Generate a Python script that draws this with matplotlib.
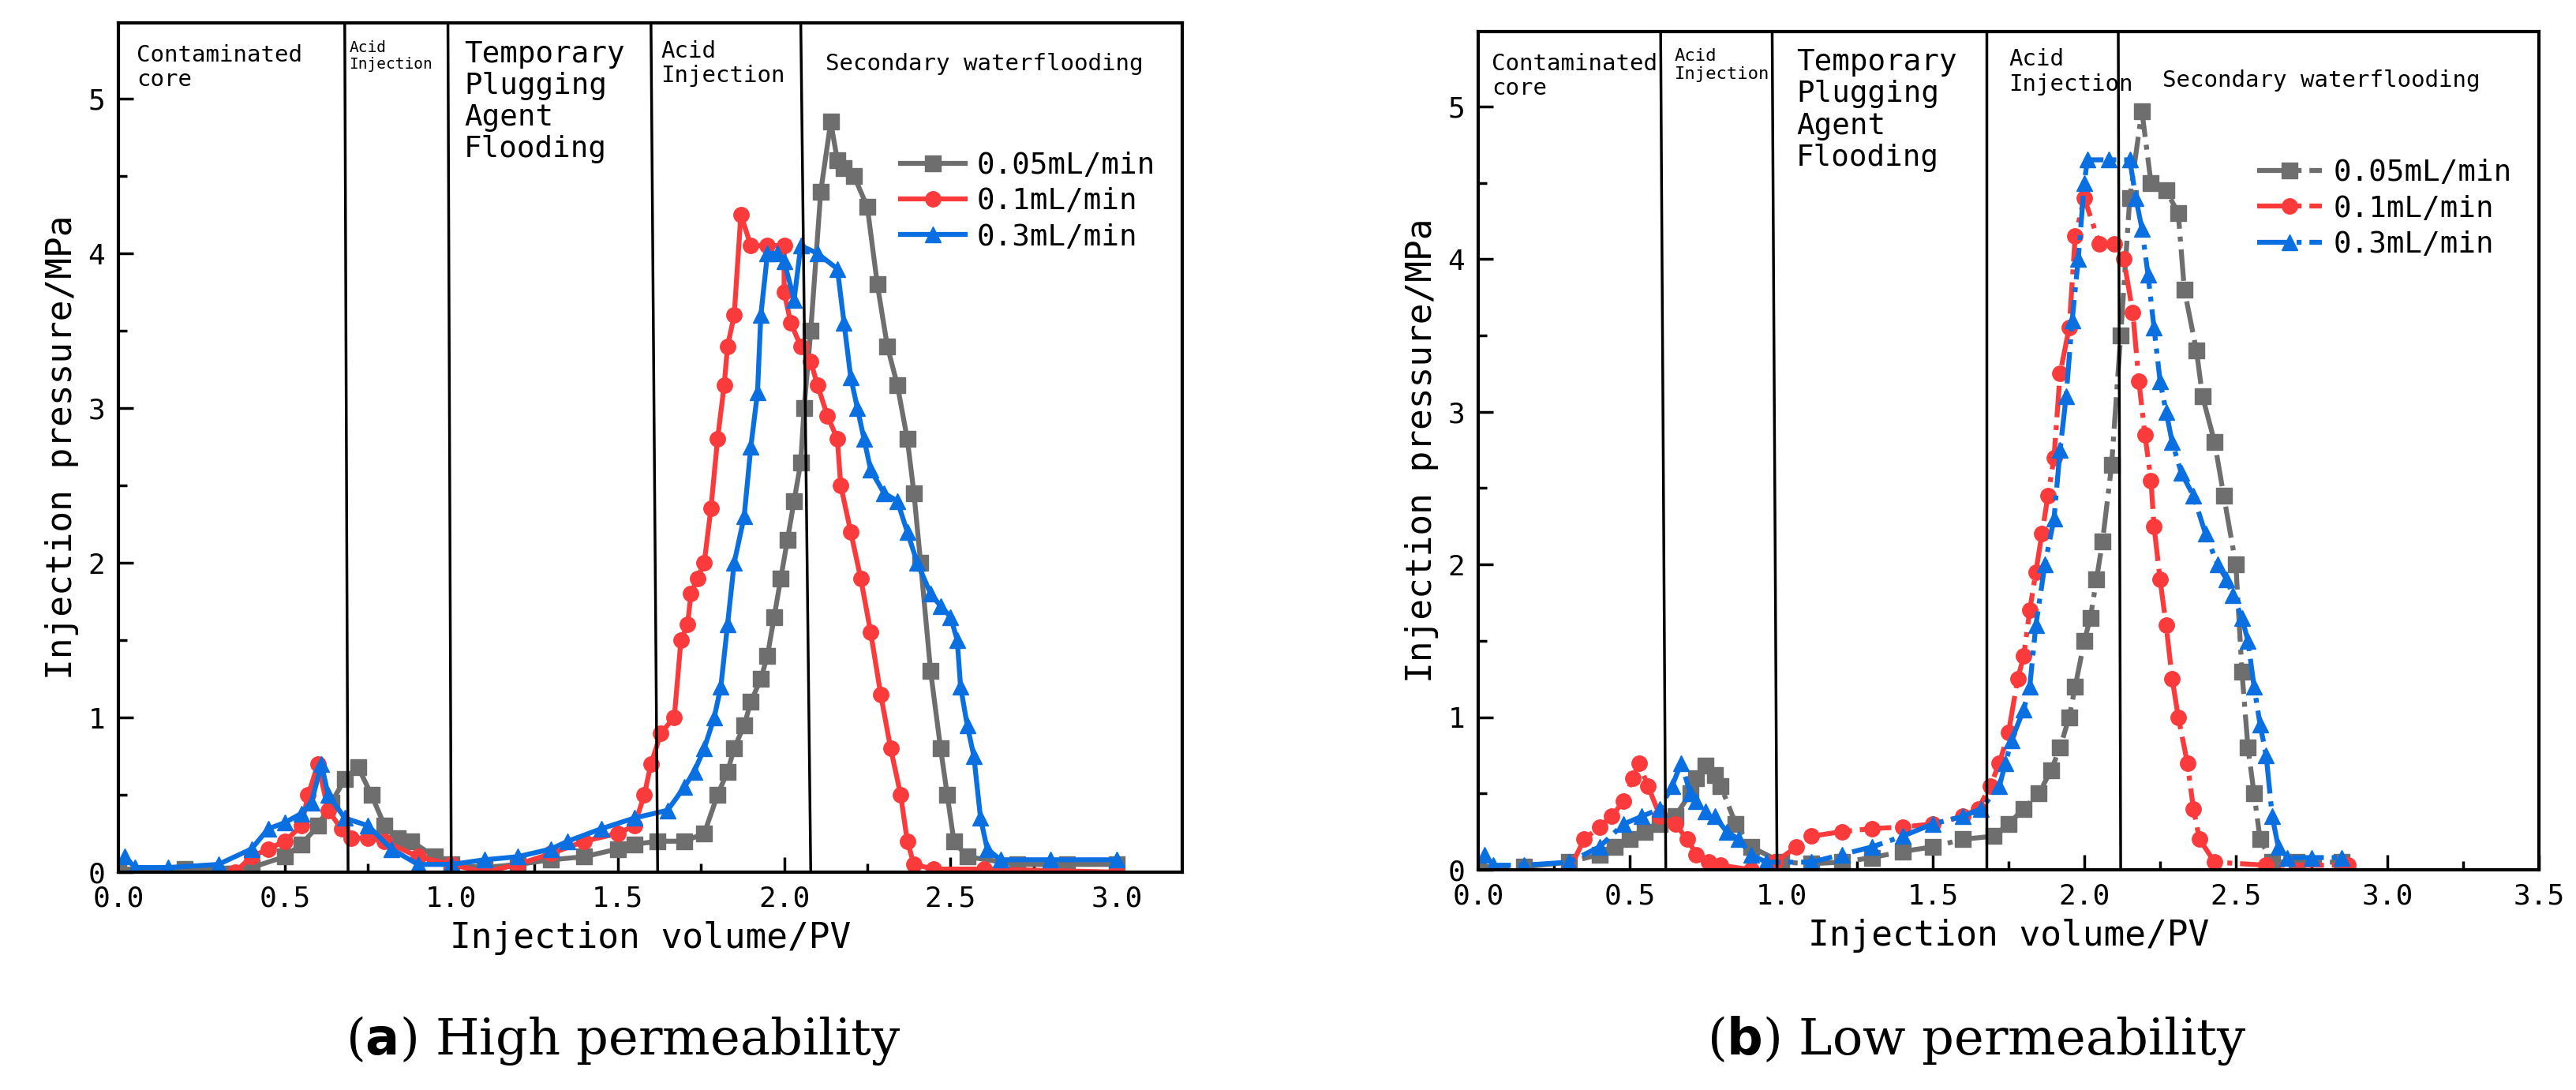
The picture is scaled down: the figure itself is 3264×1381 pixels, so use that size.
import numpy as np
import matplotlib.pyplot as plt
from matplotlib.ticker import MultipleLocator

## data
labels = ['0.05mL/min', '0.1mL/min', '0.3mL/min']
colors = ['#6e6e6e', '#fb3b3b', '#0a6fe0']
markers = ['s', 'o', '^']

# (a) high permeability
a_gray_x = [0.0, 0.2, 0.4, 0.5, 0.55, 0.6, 0.64, 0.68, 0.72, 0.76, 0.8, 0.84, 0.88, 0.95, 1.0, 1.1, 1.2, 1.3, 1.4, 1.5, 1.55, 1.62, 1.7, 1.76, 1.8, 1.83, 1.85, 1.88, 1.9, 1.93, 1.95, 1.97, 1.99, 2.01, 2.03, 2.05, 2.06, 2.08, 2.11, 2.14, 2.16, 2.18, 2.21, 2.25, 2.28, 2.31, 2.34, 2.37, 2.39, 2.41, 2.44, 2.47, 2.49, 2.51, 2.55, 2.7, 2.85, 3.0]
a_gray_y = [0.02, 0.02, 0.03, 0.1, 0.18, 0.3, 0.45, 0.6, 0.68, 0.5, 0.3, 0.22, 0.2, 0.1, 0.05, 0.03, 0.05, 0.08, 0.1, 0.15, 0.18, 0.2, 0.2, 0.25, 0.5, 0.65, 0.8, 0.95, 1.1, 1.25, 1.4, 1.65, 1.9, 2.15, 2.4, 2.65, 3.0, 3.5, 4.4, 4.85, 4.6, 4.55, 4.5, 4.3, 3.8, 3.4, 3.15, 2.8, 2.45, 2.0, 1.3, 0.8, 0.5, 0.2, 0.1, 0.05, 0.05, 0.05]
a_red_x = [0.35, 0.4, 0.45, 0.5, 0.55, 0.57, 0.6, 0.63, 0.67, 0.7, 0.75, 0.8, 0.9, 1.0, 1.1, 1.2, 1.3, 1.4, 1.5, 1.55, 1.58, 1.6, 1.63, 1.67, 1.69, 1.71, 1.72, 1.74, 1.76, 1.78, 1.8, 1.82, 1.83, 1.85, 1.87, 1.9, 1.95, 2.0, 2.0, 2.02, 2.05, 2.08, 2.1, 2.13, 2.16, 2.17, 2.2, 2.23, 2.26, 2.29, 2.32, 2.35, 2.37, 2.39, 2.45, 2.6, 2.8, 3.0]
a_red_y = [0.0, 0.1, 0.15, 0.2, 0.3, 0.5, 0.7, 0.4, 0.28, 0.22, 0.22, 0.2, 0.1, 0.05, 0.0, 0.05, 0.12, 0.2, 0.25, 0.3, 0.5, 0.7, 0.9, 1.0, 1.5, 1.6, 1.8, 1.9, 2.0, 2.35, 2.8, 3.15, 3.4, 3.6, 4.25, 4.05, 4.05, 4.05, 3.75, 3.55, 3.4, 3.3, 3.15, 2.95, 2.8, 2.5, 2.2, 1.9, 1.55, 1.15, 0.8, 0.5, 0.2, 0.05, 0.02, 0.02, 0.01, 0.0]
a_blue_x = [0.02, 0.05, 0.15, 0.3, 0.4, 0.45, 0.5, 0.55, 0.58, 0.61, 0.63, 0.68, 0.75, 0.82, 0.9, 1.0, 1.1, 1.2, 1.3, 1.35, 1.45, 1.55, 1.65, 1.7, 1.73, 1.76, 1.79, 1.81, 1.83, 1.85, 1.88, 1.9, 1.92, 1.93, 1.95, 1.98, 2.0, 2.03, 2.05, 2.1, 2.16, 2.18, 2.2, 2.22, 2.24, 2.26, 2.3, 2.34, 2.37, 2.4, 2.44, 2.47, 2.5, 2.52, 2.53, 2.55, 2.57, 2.59, 2.61, 2.65, 2.8, 3.0]
a_blue_y = [0.1, 0.03, 0.03, 0.05, 0.15, 0.28, 0.32, 0.38, 0.45, 0.7, 0.5, 0.35, 0.3, 0.15, 0.05, 0.05, 0.08, 0.1, 0.15, 0.2, 0.28, 0.35, 0.4, 0.55, 0.65, 0.8, 1.0, 1.2, 1.6, 2.0, 2.3, 2.75, 3.1, 3.6, 4.0, 4.0, 3.95, 3.7, 4.05, 4.0, 3.9, 3.55, 3.2, 3.0, 2.8, 2.6, 2.45, 2.4, 2.2, 2.0, 1.8, 1.72, 1.65, 1.5, 1.2, 0.95, 0.75, 0.35, 0.15, 0.08, 0.08, 0.08]

# (b) low permeability
b_gray_x = [0.0, 0.15, 0.3, 0.4, 0.45, 0.5, 0.55, 0.6, 0.65, 0.7, 0.72, 0.75, 0.78, 0.8, 0.85, 0.9, 1.0, 1.1, 1.2, 1.3, 1.4, 1.5, 1.6, 1.7, 1.75, 1.8, 1.85, 1.89, 1.92, 1.95, 1.97, 2.0, 2.02, 2.04, 2.06, 2.09, 2.12, 2.15, 2.19, 2.22, 2.27, 2.31, 2.33, 2.37, 2.39, 2.43, 2.46, 2.5, 2.52, 2.54, 2.56, 2.58, 2.62, 2.7, 2.85]
b_gray_y = [0.02, 0.02, 0.05, 0.1, 0.15, 0.2, 0.25, 0.3, 0.35, 0.5, 0.6, 0.68, 0.62, 0.55, 0.3, 0.15, 0.05, 0.04, 0.05, 0.08, 0.12, 0.15, 0.2, 0.22, 0.3, 0.4, 0.5, 0.65, 0.8, 1.0, 1.2, 1.5, 1.65, 1.9, 2.15, 2.65, 3.5, 4.4, 4.97, 4.5, 4.45, 4.3, 3.8, 3.4, 3.1, 2.8, 2.45, 2.0, 1.3, 0.8, 0.5, 0.2, 0.05, 0.05, 0.05]
b_red_x = [0.3, 0.35, 0.4, 0.44, 0.48, 0.51, 0.53, 0.56, 0.6, 0.65, 0.69, 0.72, 0.76, 0.8, 0.9, 0.98, 1.05, 1.1, 1.2, 1.3, 1.4, 1.5, 1.6, 1.65, 1.69, 1.72, 1.75, 1.78, 1.8, 1.82, 1.84, 1.86, 1.88, 1.9, 1.92, 1.95, 1.97, 2.0, 2.05, 2.1, 2.13, 2.16, 2.18, 2.2, 2.22, 2.23, 2.25, 2.27, 2.29, 2.31, 2.34, 2.36, 2.38, 2.43, 2.6, 2.87]
b_red_y = [0.0, 0.2, 0.28, 0.35, 0.45, 0.6, 0.7, 0.55, 0.35, 0.3, 0.2, 0.1, 0.05, 0.03, 0.0, 0.05, 0.15, 0.22, 0.25, 0.27, 0.28, 0.3, 0.35, 0.4, 0.55, 0.7, 0.9, 1.25, 1.4, 1.7, 1.95, 2.2, 2.45, 2.7, 3.25, 3.55, 4.15, 4.4, 4.1, 4.1, 4.0, 3.65, 3.2, 2.85, 2.55, 2.25, 1.9, 1.6, 1.25, 1.0, 0.7, 0.4, 0.2, 0.05, 0.03, 0.03]
b_blue_x = [0.02, 0.05, 0.15, 0.3, 0.4, 0.48, 0.54, 0.6, 0.64, 0.67, 0.7, 0.72, 0.75, 0.78, 0.82, 0.86, 0.9, 0.95, 1.1, 1.2, 1.3, 1.4, 1.5, 1.6, 1.66, 1.72, 1.74, 1.76, 1.8, 1.82, 1.84, 1.87, 1.9, 1.92, 1.94, 1.96, 1.98, 2.0, 2.01, 2.08, 2.15, 2.17, 2.19, 2.21, 2.23, 2.25, 2.27, 2.29, 2.32, 2.36, 2.4, 2.44, 2.47, 2.49, 2.52, 2.54, 2.56, 2.58, 2.6, 2.62, 2.64, 2.67, 2.75, 2.85]
b_blue_y = [0.1, 0.03, 0.03, 0.05, 0.15, 0.3, 0.35, 0.4, 0.55, 0.7, 0.5, 0.45, 0.38, 0.35, 0.25, 0.2, 0.1, 0.05, 0.05, 0.1, 0.15, 0.22, 0.3, 0.35, 0.4, 0.55, 0.7, 0.85, 1.05, 1.2, 1.6, 2.0, 2.3, 2.75, 3.1, 3.6, 4.0, 4.5, 4.65, 4.65, 4.65, 4.4, 4.2, 3.9, 3.55, 3.2, 3.0, 2.8, 2.6, 2.45, 2.2, 2.0, 1.9, 1.8, 1.65, 1.5, 1.2, 0.95, 0.75, 0.35, 0.15, 0.08, 0.08, 0.08]

# stage dividers: (x at bottom, x at top)
a_div = [(0.69, 0.68), (1.0, 0.99), (1.62, 1.6), (2.08, 2.05)]
b_div = [(0.619, 0.602), (0.986, 0.97), (1.676, 1.676), (2.12, 2.112)]

mono = 'DejaVu Sans Mono'
plt.rcParams['font.family'] = mono

W, H = 3264, 1381
fig = plt.figure(figsize=(32.64, 13.81), dpi=100)
axa = fig.add_axes([150/W, 1-1105/H, 1348/W, 1076/H])
axb = fig.add_axes([1873/W, 1-1102/H, 1344/W, 1062/H])

def draw(ax, series, divs, xmax, ls, texts):
    for (x, y), lab, c, m in zip(series, labels, colors, markers):
        ax.plot(x, y, ls, color=c, marker=m, ms=14, lw=4.5, label=lab)
    for xb, xt in divs:
        ax.plot([xb, xt], [0, 5.49], color='black', lw=2.5)
    ax.set_xlim(0, xmax)
    ax.set_ylim(0, 5.49)
    ax.xaxis.set_major_locator(MultipleLocator(0.5))
    ax.xaxis.set_minor_locator(MultipleLocator(0.25))
    ax.yaxis.set_major_locator(MultipleLocator(1))
    ax.yaxis.set_minor_locator(MultipleLocator(0.5))
    ax.tick_params(which='both', direction='in', width=2.5, labelsize=26, pad=12)
    ax.tick_params(which='major', length=14)
    ax.tick_params(which='minor', length=8)
    ax.set_xticklabels(['%.1f' % v for v in ax.get_xticks()])
    ax.set_yticklabels(['%d' % v for v in ax.get_yticks()])
    for s in ax.spines.values():
        s.set_linewidth(3)
    ax.set_xlabel('Injection volume/PV', fontsize=32, labelpad=8)
    ax.set_ylabel('Injection pressure/MPa', fontsize=32, labelpad=8)
    for x, y, t, fs in texts:
        ax.text(x, y, t, fontsize=fs, va='top', transform=ax.transAxes, linespacing=1.15)
    ax.legend(loc='upper right', bbox_to_anchor=(1.0, 0.88), frameon=False, fontsize=27,
              handlelength=2.2, handletextpad=0.4, labelspacing=0.25)

draw(axa, [(a_gray_x, a_gray_y), (a_red_x, a_red_y), (a_blue_x, a_blue_y)], a_div, 3.196, '-',
     [(0.017, 0.975, 'Contaminated\ncore', 21), (0.217, 0.98, 'Acid\nInjection', 14),
      (0.325, 0.98, 'Temporary\nPlugging\nAgent\nFlooding', 27), (0.51, 0.98, 'Acid\nInjection', 21),
      (0.665, 0.965, 'Secondary waterflooding', 21)])
draw(axb, [(b_gray_x, b_gray_y), (b_red_x, b_red_y), (b_blue_x, b_blue_y)], b_div, 3.5, '-.',
     [(0.013, 0.975, 'Contaminated\ncore', 21), (0.185, 0.98, 'Acid\nInjection', 16),
      (0.3, 0.98, 'Temporary\nPlugging\nAgent\nFlooding', 27), (0.5, 0.98, 'Acid\nInjection', 21),
      (0.645, 0.955, 'Secondary waterflooding', 21)])

fig.text(790/W, 1-1319/H, r'($\mathbf{a}$) High permeability', fontsize=46,
         family='DejaVu Serif', ha='center', va='center')
fig.text(2505/W, 1-1319/H, r'($\mathbf{b}$) Low permeability', fontsize=46,
         family='DejaVu Serif', ha='center', va='center')

fig.savefig('out.png', dpi=100)
